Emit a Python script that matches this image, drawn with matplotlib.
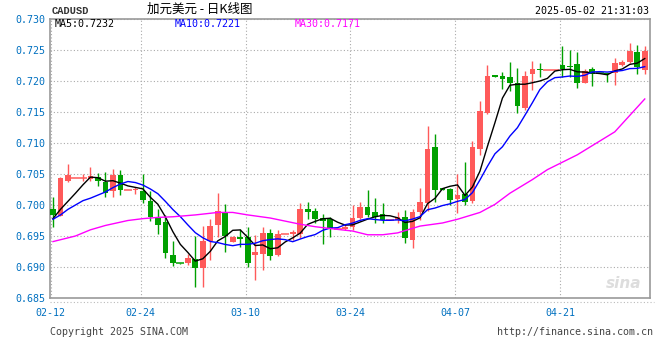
import numpy as np
import pandas as pd
import matplotlib
matplotlib.use('Agg')
import matplotlib.pyplot as plt
from matplotlib.lines import Line2D

# 日K数据 (2025-02-12 ~ 2025-05-02, 每个自然日一根)
dates = pd.date_range('2025-02-12', '2025-05-02', freq='D')
tick_labels = ['02-12', '02-24', '03-10', '03-24', '04-07', '04-21']

opens = [0.6994, 0.6983, 0.7039, 0.7044, 0.7044, 0.7042, 0.7045, 0.7037, 0.7023, 0.7048,
         0.7024, 0.7025, 0.7023, 0.7007, 0.6980, 0.6972, 0.6919, 0.6906, 0.6906, 0.6913,
         0.6899, 0.6942, 0.6968, 0.6989, 0.6941, 0.6948, 0.6948, 0.6919, 0.6921, 0.6955,
         0.6919, 0.6953, 0.6953, 0.6953, 0.6993, 0.6990, 0.6979, 0.6977, 0.6961, 0.6961,
         0.6965, 0.6979, 0.6997, 0.6988, 0.6986, 0.6976, 0.6976, 0.6980, 0.6944, 0.6988,
         0.7004, 0.7093, 0.7028, 0.7026, 0.7010, 0.7018, 0.7007, 0.7090, 0.7149, 0.7210,
         0.7208, 0.7206, 0.7197, 0.7156, 0.7211, 0.7219, 0.7218, 0.7218, 0.7226, 0.7224,
         0.7227, 0.7197, 0.7219, 0.72135, 0.7213, 0.7213, 0.7226, 0.7230, 0.7247, 0.7218]
highs = [0.7013, 0.7045, 0.7066, 0.7044, 0.7050, 0.7062, 0.7052, 0.7054, 0.7058, 0.7057,
         0.7024, 0.7029, 0.7050, 0.7022, 0.6994, 0.6984, 0.6942, 0.6906, 0.6921, 0.6950,
         0.6966, 0.6977, 0.7020, 0.7002, 0.6950, 0.6962, 0.6965, 0.6952, 0.6965, 0.6961,
         0.6960, 0.6953, 0.6959, 0.7004, 0.7005, 0.6995, 0.6986, 0.6981, 0.6961, 0.6969,
         0.7000, 0.7005, 0.7024, 0.7012, 0.7003, 0.6976, 0.6988, 0.6992, 0.6994, 0.7028,
         0.7127, 0.7115, 0.7028, 0.7027, 0.7050, 0.7069, 0.7103, 0.7168, 0.7226, 0.7210,
         0.7214, 0.7230, 0.7221, 0.7216, 0.7232, 0.7229, 0.7218, 0.7218, 0.7257, 0.7250,
         0.7247, 0.7219, 0.7222, 0.72135, 0.7213, 0.7237, 0.7234, 0.7262, 0.7258, 0.7257]
lows = [0.6965, 0.6982, 0.7037, 0.7044, 0.7039, 0.7039, 0.7030, 0.7013, 0.7013, 0.7016,
        0.7024, 0.7017, 0.7003, 0.6975, 0.6954, 0.6914, 0.6901, 0.69055, 0.6903, 0.6868,
        0.6868, 0.6911, 0.6949, 0.6925, 0.6940, 0.6932, 0.6900, 0.6879, 0.6895, 0.6911,
        0.6917, 0.6953, 0.6944, 0.6946, 0.6977, 0.6971, 0.6937, 0.6949, 0.6961, 0.6959,
        0.6960, 0.6977, 0.6981, 0.6971, 0.6971, 0.6976, 0.6971, 0.6939, 0.6931, 0.6976,
        0.6990, 0.7005, 0.7024, 0.7000, 0.6987, 0.7000, 0.7003, 0.7081, 0.7146, 0.7207,
        0.7187, 0.7184, 0.7149, 0.7153, 0.7186, 0.7207, 0.7218, 0.7218, 0.7207, 0.7207,
        0.7188, 0.7197, 0.7192, 0.7213, 0.7199, 0.7194, 0.7225, 0.7229, 0.7212, 0.7212]
closes = [0.6984, 0.7043, 0.7048, 0.7044, 0.7044, 0.7046, 0.7038, 0.7020, 0.7048, 0.7024,
          0.7024, 0.7026, 0.7008, 0.6980, 0.6968, 0.6923, 0.6906, 0.69055, 0.6915, 0.6898,
          0.6942, 0.6966, 0.6990, 0.6950, 0.6948, 0.6945, 0.6906, 0.6924, 0.6955, 0.6917,
          0.6953, 0.6953, 0.6957, 0.6993, 0.6988, 0.6977, 0.6974, 0.6961, 0.6961, 0.6965,
          0.6979, 0.6997, 0.6984, 0.6980, 0.6976, 0.6976, 0.6981, 0.6946, 0.6989, 0.7005,
          0.7090, 0.7024, 0.7024, 0.7008, 0.7016, 0.7005, 0.7093, 0.7151, 0.7208, 0.7207,
          0.7203, 0.7197, 0.7159, 0.7208, 0.7219, 0.7217, 0.7218, 0.7218, 0.7219, 0.7222,
          0.7197, 0.7216, 0.7212, 0.7213, 0.7212, 0.7229, 0.7231, 0.7249, 0.7223, 0.7249]

# 均线起始段 (图中读取, 窗口不满时)
ma5_head = [0.6978, 0.6993, 0.7006, 0.7019]
ma10_head = [0.6977, 0.6984, 0.6993, 0.7000, 0.7007, 0.7011, 0.7016, 0.7021, 0.7028]
# MA30 (图中读取的采样点)
ma30_idx = [0, 3, 5, 7, 10, 12, 14, 16, 19, 22, 24, 26, 29, 31, 33, 35, 37, 40, 42, 44,
            46, 49, 52, 54, 57, 59, 61, 64, 66, 70, 75, 79]
ma30_val = [0.6941, 0.6950, 0.6960, 0.6967, 0.6975, 0.6978, 0.6980, 0.6981, 0.6984, 0.6988,
            0.6988, 0.6984, 0.6979, 0.6974, 0.6969, 0.6965, 0.6962, 0.6958, 0.6952, 0.6952,
            0.6955, 0.6966, 0.6971, 0.6977, 0.6988, 0.7001, 0.7019, 0.7041, 0.7057, 0.7081,
            0.7118, 0.7171]

RED = '#ff5a5a'
GREEN = '#00a000'
BLUE_TXT = '#0070c0'
MONO = 'DejaVu Sans Mono'

o = np.array(opens); h = np.array(highs); l = np.array(lows); c = np.array(closes)
x = np.arange(len(c))
colors = np.where(c < o, GREEN, RED)

ma5 = pd.Series(c).rolling(5).mean().values
ma5[:len(ma5_head)] = ma5_head
ma10 = pd.Series(c).rolling(10).mean().values
ma10[:len(ma10_head)] = ma10_head

fig = plt.figure(figsize=(6.6, 3.6), dpi=100)
ax = fig.add_axes([50 / 660, 1 - 298 / 360, 600 / 660, 279 / 360])
ax.set_xlim(-0.4, 79.7)
ax.set_ylim(0.685, 0.730)

# 网格
ax.set_yticks(np.arange(0.685, 0.7301, 0.005))
ax.yaxis.set_major_formatter(matplotlib.ticker.FormatStrFormatter('%.3f'))
tick_pos = [list(dates.strftime('%m-%d')).index(t) - 0.3 for t in tick_labels]
ax.set_xticks(tick_pos)
ax.set_xticklabels(tick_labels)
ax.grid(color='#aaaaaa', linestyle=(0, (1, 2)), linewidth=0.8)
ax.set_axisbelow(True)
for s in ax.spines.values():
    s.set_color('#9a9a9a')
    s.set_linewidth(1.2)
ax.tick_params(length=0, labelsize=7.2, labelcolor=BLUE_TXT)
ax.tick_params(axis='y', pad=3)
ax.tick_params(axis='x', pad=7)
for lab in ax.get_xticklabels() + ax.get_yticklabels():
    lab.set_family(MONO)

# K线
w = 0.76
ax.vlines(x, l, h, colors=colors, linewidth=1, zorder=2)
body = np.abs(c - o)
flat = body < 0.00008
ax.bar(x[~flat], body[~flat], bottom=np.minimum(o, c)[~flat], width=w,
       color=colors[~flat], linewidth=0, zorder=3)
ax.hlines(o[flat], x[flat] - w / 2 - 0.15, x[flat] + w / 2 + 0.15, colors=colors[flat],
          linewidth=1.1, zorder=3)

# 均线
ax.plot(x, ma5, color='black', lw=1, zorder=4)
ax.plot(x, ma10, color='#0000ff', lw=1, zorder=4)
ax.plot(ma30_idx, ma30_val, color='#ff00ff', lw=1, zorder=4)

# 水印
ax.text(0.985, 0.025, 'sina', transform=ax.transAxes, ha='right', va='bottom',
        fontsize=11, fontweight='bold', style='italic', color='#dddddd', zorder=1)

def fx(px):
    return px / 660

def fy(py):
    return 1 - py / 360

# 时间轴下方虚线
fig.add_artist(Line2D([fx(50), fx(654)], [fy(302), fy(302)], color='#bbbbbb',
                      linestyle=(0, (1, 2)), linewidth=0.8))

fig.text(fx(52), fy(11), 'CADUSD', fontsize=7.5, fontweight='bold', color='#333333',
         family='Liberation Mono', va='center')
fig.text(fx(200), fy(9), '加元美元 - 日K线图', fontsize=9, color='black',
         family=['Noto Sans CJK SC', 'DejaVu Sans'], ha='center', va='center')
fig.text(fx(649), fy(11), '2025-05-02 21:31:03', fontsize=7.2, color='black',
         family=MONO, ha='right', va='center')
fig.text(fx(55), fy(24), 'MA5:0.7232', fontsize=7.2, color='black', family=MONO, va='center')
fig.text(fx(175), fy(24), 'MA10:0.7221', fontsize=7.2, color='#0000ff', family=MONO, va='center')
fig.text(fx(295), fy(24), 'MA30:0.7171', fontsize=7.2, color='#ff00ff', family=MONO, va='center')
fig.text(fx(50), fy(332), 'Copyright 2025 SINA.COM', fontsize=7.2, color='#444444',
         family=MONO, va='center')
fig.text(fx(653), fy(332), 'http://finance.sina.com.cn', fontsize=7.2, color='#444444',
         family=MONO, ha='right', va='center')

fig.savefig('out.png', dpi=100, facecolor='white')
